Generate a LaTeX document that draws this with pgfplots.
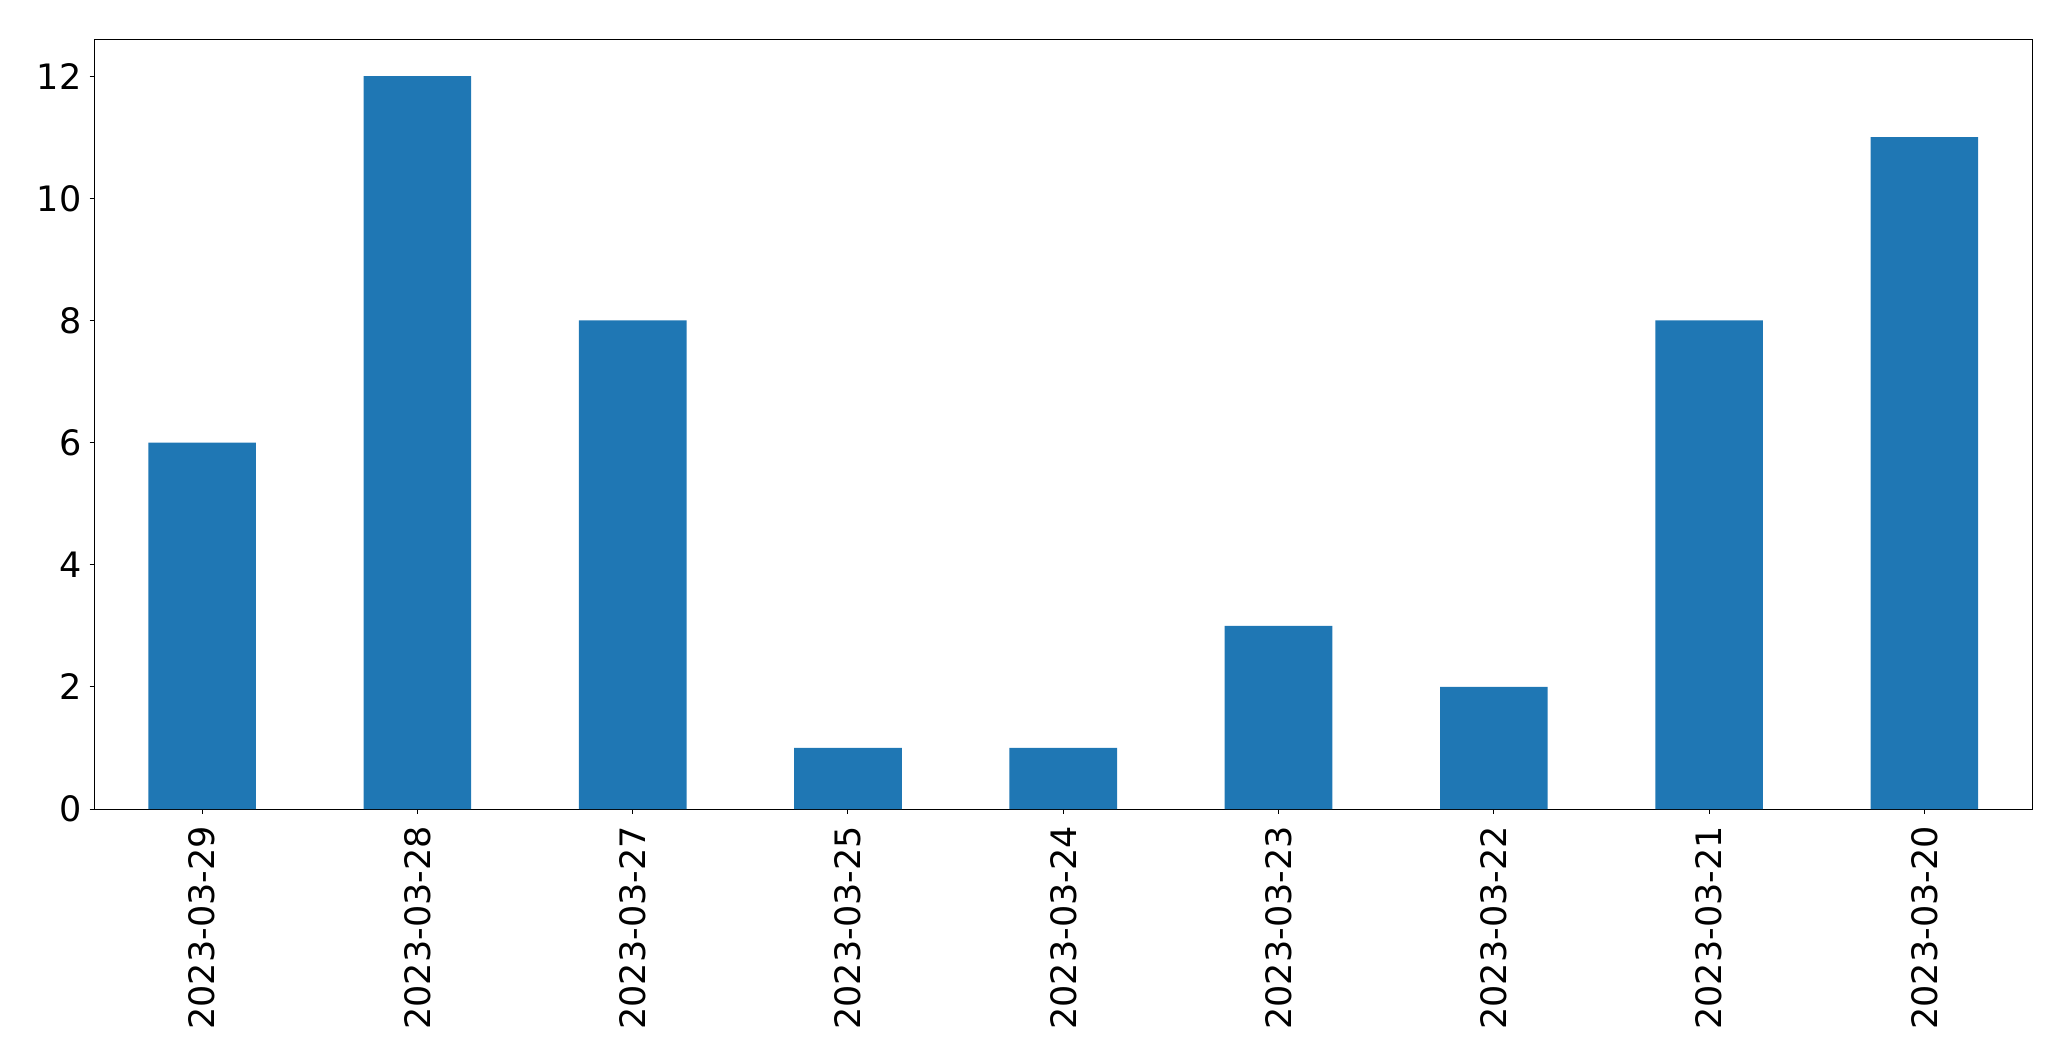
\documentclass[border=0pt]{standalone}
\usepackage{pgfplots}
\pgfplotsset{compat=1.18}
\usepackage{fontspec}
\setmainfont{DejaVu Sans}
\definecolor{mplblue}{HTML}{1F77B4}
\begin{document}
\fontsize{17.5}{21}\selectfont
\begin{tikzpicture}
\begin{axis}[name=ax, scale only axis, width=968.75pt, height=384.75pt,
 xmin=-0.5, xmax=8.5, ymin=0, ymax=12.6,
 xtick={0,1,2,3,4,5,6,7,8},
 xticklabels={2023-03-29,2023-03-28,2023-03-27,2023-03-25,2023-03-24,2023-03-23,2023-03-22,2023-03-21,2023-03-20},
 ytick={0,2,4,6,8,10,12},
 tick align=outside, tick style={black, line width=0.5pt}, major tick length=2.4pt,
 x tick label style={rotate=90, anchor=east, inner sep=0pt, xshift=-6pt},
 y tick label style={inner sep=0pt, xshift=-4pt},
 /pgf/number format/assume math mode=true,
 tick label style={font=\fontsize{17.5}{21}\selectfont},
 axis line style={line width=0.5pt},
 xtick pos=bottom, ytick pos=left,
 ]
\addplot[ybar, bar width=0.5, fill=mplblue, draw=none] coordinates {(0,6) (1,12) (2,8) (3,1) (4,1) (5,3) (6,2) (7,8) (8,11)};
\end{axis}
\path (ax.south west) ++(-47.25pt,-126pt) coordinate (bl);
\path (ax.north east) ++(19.5pt,19.75pt) coordinate (tr);
\path (bl) rectangle (tr);
\end{tikzpicture}
\end{document}
